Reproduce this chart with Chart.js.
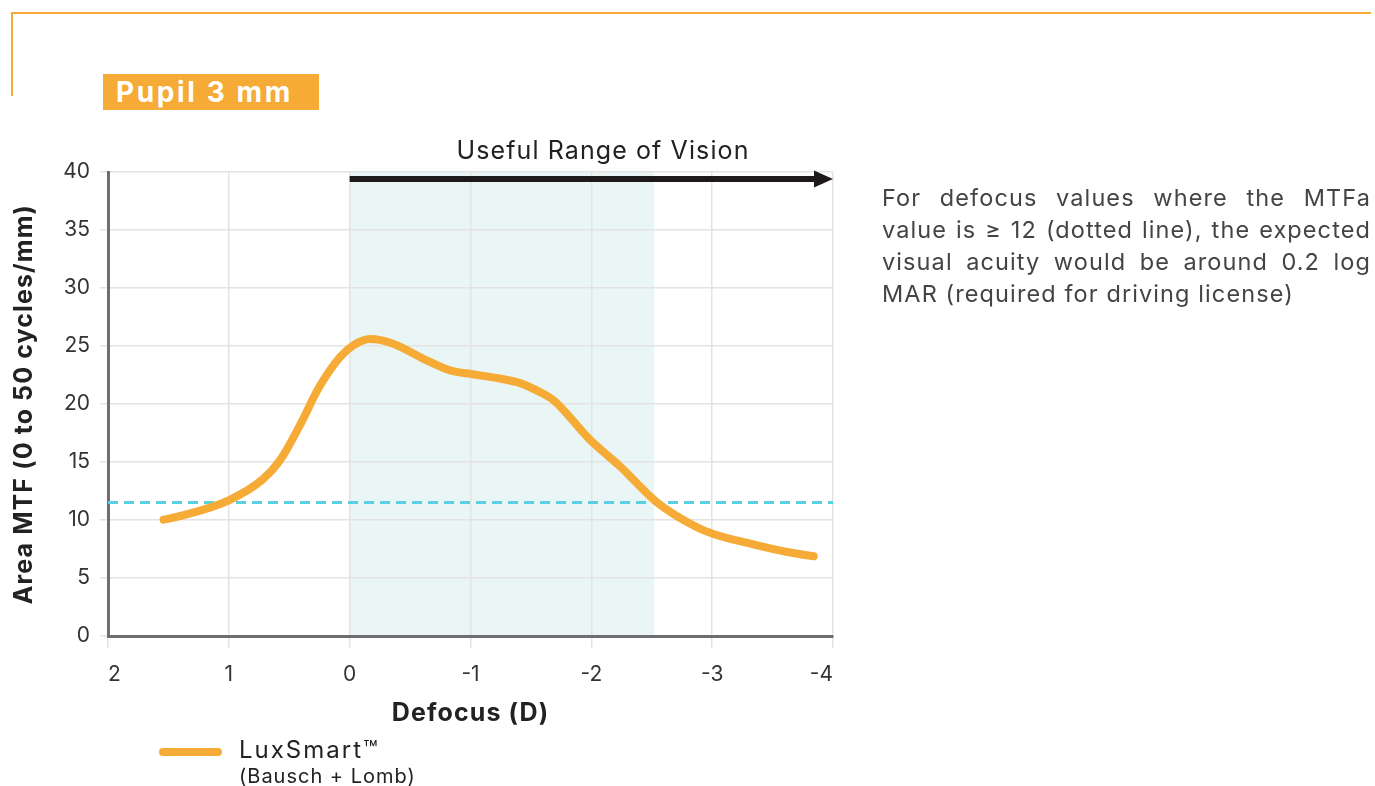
<!DOCTYPE html>
<html>
<head>
<meta charset="utf-8">
<script src="https://cdn.jsdelivr.net/npm/chart.js@4.4.1/dist/chart.umd.min.js"></script>
<style>
  html, body { margin:0; padding:0; background:#fff; }
  body { width:1375px; height:786px; position:relative; overflow:hidden; font-family: Inter, "Open Sans", sans-serif; }
  #wrap { position:absolute; left:0; top:0; width:1375px; height:786px; }
  .topline { position:absolute; left:11px; top:12px; width:1360px; height:2px; background:#f5ab35; }
  .leftline { position:absolute; left:11px; top:12px; width:2px; height:84px; background:#f5ab35; }
  .pupil { position:absolute; left:103px; top:74px; width:216px; height:36px; background:#f5ab35; color:#fff;
           font-weight:700; font-size:28px; letter-spacing:2.6px; line-height:36px; box-sizing:border-box; padding-left:13px; white-space:nowrap; }
  .urv { position:absolute; left:403px; top:134px; width:400px; text-align:center; font-size:25px; letter-spacing:1.1px; color:#222; line-height:32px; }
  .note { position:absolute; left:882px; top:182px; width:489px; font-size:23.5px; letter-spacing:1.1px; line-height:32px; color:#444; }
  .note span { display:block; text-align:justify; text-align-last:justify; white-space:nowrap; }
  .note span.last { text-align-last:left; }
  .legline { position:absolute; left:159px; top:748px; width:63px; height:8px; border-radius:4px; background:#f5ab35; }
  .leg1 { position:absolute; left:239px; top:735px; font-size:24px; letter-spacing:2px; color:#222; line-height:30px; white-space:nowrap; }
  .leg2 { position:absolute; left:239px; top:764px; font-size:20px; letter-spacing:1px; color:#222; line-height:24px; white-space:nowrap; }
</style>
</head>
<body>
<div id="wrap"><canvas id="c" width="1375" height="786"></canvas></div>
<div class="topline"></div>
<div class="leftline"></div>
<div class="pupil">Pupil 3 mm</div>
<div class="urv">Useful Range of Vision</div>
<div class="note">
  <span>For defocus values where the MTFa</span>
  <span>value is ≥ 12 (dotted line), the expected</span>
  <span>visual acuity would be around 0.2 log</span>
  <span class="last">MAR (required for driving license)</span>
</div>
<div class="legline"></div>
<div class="leg1">LuxSmart™</div>
<div class="leg2">(Bausch + Lomb)</div>
<script>
// ---- data ----
const defocus = [1.54, 1.38, 1.0, 0.72, 0.58, 0.41, 0.25, 0.08, -0.03, -0.17, -0.36, -0.61, -0.83, -1.02, -1.24, -1.41, -1.58, -1.69, -1.99, -2.24, -2.54, -2.87, -3.01, -3.34, -3.62, -3.84];
const mtfa    = [10.03, 10.4, 11.7, 13.5, 15.1, 18.2, 21.5, 24.05, 25.06, 25.6, 25.2, 23.9, 22.9, 22.56, 22.2, 21.8, 21.0, 20.3, 16.9, 14.6, 11.55, 9.4, 8.8, 7.9, 7.24, 6.87];
const thresholdX = [2, -4];
const thresholdY = [11.5, 11.5];
const usefulRange = [0, -2.52];     // shaded defocus range
const arrowRange = [0, -4];         // arrow from/to defocus
const arrowLevel = 39.4;            // arrow height (MTFa units)
const xTicks = [-4, -3, -2, -1, 0, 1, 2];
const yTicks = [0, 5, 10, 15, 20, 25, 30, 35, 40];

const ORANGE = '#f5ab35';
const FONT = 'Inter, "Open Sans", sans-serif';

// letter-spaced axis titles (the reference uses a wide geometric face)
const origDrawTitle = Chart.Scale.prototype.drawTitle;
Chart.LinearScale.prototype.drawTitle = function () {
  const c = this.ctx;
  c.save();
  c.letterSpacing = '1.1px';
  origDrawTitle.call(this);
  c.restore();
};

const shadePlugin = {
  id: 'shade',
  beforeDraw(chart) {
    const {ctx, chartArea, scales:{x}} = chart;
    const x0 = x.getPixelForValue(usefulRange[0]);
    const x1 = x.getPixelForValue(usefulRange[1]);
    ctx.save();
    ctx.fillStyle = '#eaf6f6';
    ctx.fillRect(Math.min(x0,x1), chartArea.top, Math.abs(x1-x0), chartArea.bottom - chartArea.top);
    ctx.restore();
  },
  afterDatasetsDraw(chart) {
    const {ctx, scales:{x, y}} = chart;
    const ax0 = x.getPixelForValue(arrowRange[0]);
    const ax1 = x.getPixelForValue(arrowRange[1]);
    const ay = y.getPixelForValue(arrowLevel);
    ctx.save();
    ctx.strokeStyle = '#1e1a1b';
    ctx.fillStyle = '#1e1a1b';
    ctx.lineWidth = 6;
    ctx.beginPath();
    ctx.moveTo(ax0, ay);
    ctx.lineTo(ax1 - 16, ay);
    ctx.stroke();
    ctx.beginPath();
    ctx.moveTo(ax1, ay);
    ctx.lineTo(ax1 - 19, ay - 8.5);
    ctx.lineTo(ax1 - 19, ay + 8.5);
    ctx.closePath();
    ctx.fill();
    ctx.restore();
  }
};

new Chart(document.getElementById('c'), {
  type: 'scatter',
  data: {
    datasets: [
      {
        label: 'threshold',
        data: thresholdX.map((v, i) => ({x: v, y: thresholdY[i]})),
        showLine: true,
        borderColor: '#5ccfe0',
        borderWidth: 3,
        borderDash: [10, 6],
        pointRadius: 0,
        order: 2
      },
      {
        label: 'LuxSmart™',
        data: defocus.map((v, i) => ({x: v, y: mtfa[i]})),
        showLine: true,
        borderColor: ORANGE,
        borderWidth: 8,
        borderCapStyle: 'round',
        borderJoinStyle: 'round',
        cubicInterpolationMode: 'monotone',
        pointRadius: 0,
        order: 1
      }
    ]
  },
  options: {
    responsive: false,
    animation: false,
    events: [],
    layout: { padding: { left: 0, top: 172, right: 542, bottom: 50 } },
    plugins: { legend: { display: false }, tooltip: { enabled: false }, title: { display: false } },
    scales: {
      x: {
        type: 'linear',
        reverse: true,
        min: -4, max: 2,
        afterBuildTicks: (s) => { s.ticks = xTicks.map(v => ({value: v})); },
        afterFit: (s) => { s.height = 100; },
        ticks: { color: '#333', font: { family: FONT, size: 21 }, padding: 14, align: 'inner', callback: (v) => String(v) },
        grid: { color: '#e3e3e3', lineWidth: 1.5, tickLength: 12 },
        border: { color: '#6e6e70', width: 3 },
        title: { display: true, text: 'Defocus (D)', color: '#222', font: { family: FONT, size: 25, weight: 'bold' }, padding: { top: 0, bottom: 8 } }
      },
      y: {
        type: 'linear',
        min: 0, max: 40,
        afterBuildTicks: (s) => { s.ticks = yTicks.map(v => ({value: v})); },
        afterFit: (s) => { s.width = 108; },
        ticks: { color: '#333', font: { family: FONT, size: 21 }, padding: 10 },
        grid: { color: '#e3e3e3', lineWidth: 1.5, tickLength: 8 },
        border: { color: '#6e6e70', width: 3 },
        title: { display: true, text: 'Area MTF (0 to 50 cycles/mm)', color: '#222', font: { family: FONT, size: 25, weight: 'bold' }, padding: { top: 9, bottom: 0 } }
      }
    }
  },
  plugins: [shadePlugin]
});
</script>
</body>
</html>
